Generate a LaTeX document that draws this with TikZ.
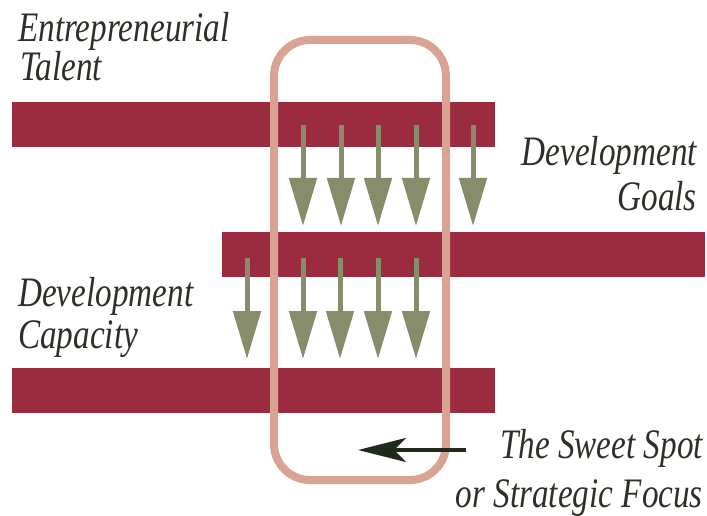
\documentclass[tikz,border=0pt]{standalone}
\usepackage{fontspec}
\newfontfamily\labelfont[FakeStretch=0.79]{Liberation Serif}
\usetikzlibrary{arrows.meta}
\definecolor{barred}{HTML}{9B2B3E}
\definecolor{spotpink}{HTML}{D9A394}
\definecolor{olive}{HTML}{858D6B}
\definecolor{ink}{HTML}{2B3127}
\definecolor{pointer}{HTML}{1F2A1C}
\tikzset{
  bar/.style={fill=barred, inner sep=0pt, outer sep=0pt, minimum height=45pt},
  spot/.style={draw=spotpink, line width=8pt, rounded corners=36pt, inner sep=0pt,
    minimum width=172pt, minimum height=440pt},
  flow/.style={draw=olive, line width=5pt, -{Triangle[length=48pt,width=27pt]}},
  pointerarrow/.style={draw=pointer, line width=4pt, -{Stealth[length=48pt,width=24pt,inset=12pt]}},
  lbl/.style={inner sep=0pt, text=ink, font=\labelfont\itshape\fontsize{42}{42}\selectfont}
}
\begin{document}
\begin{tikzpicture}[x=1pt,y=-1pt]
\useasboundingbox (0,0) rectangle (707,516);
% the three horizontal bands
\node[bar, minimum width=483pt] (talentbar) at (253.5,124.5) {};
\node[bar, minimum width=483pt] (goalsbar) at (463.5,254.5) {};
\node[bar, minimum width=483pt] (capacitybar) at (253.5,390) {};
% the sweet spot frame
\node[spot] (spot) at (360,260) {};
% flows from talent to goals
\foreach \x in {303,341,378,416,473} {
  \coordinate (ta\x) at (\x,125);
  \coordinate (tb\x) at (\x,226);
  \draw[flow] (ta\x) -- (tb\x);
}
% flows from goals to capacity
\foreach \x in {247,303,340,378,416} {
  \coordinate (ga\x) at (\x,258);
  \coordinate (gb\x) at (\x,359);
  \draw[flow] (ga\x) -- (gb\x);
}
% labels
\node[lbl, anchor=base west] (talent1) at (18,42) {Entrepreneurial};
\node[lbl, anchor=base west] (talent2) at (20,81) {Talent};
\node[lbl, anchor=base east] (goals1) at (697,165) {Development};
\node[lbl, anchor=base east] (goals2) at (697,210) {Goals};
\node[lbl, anchor=base west] (cap1) at (18,306) {Development};
\node[lbl, anchor=base west] (cap2) at (18,348) {Capacity};
\node[lbl, anchor=base east] (sweet1) at (703,458) {The Sweet Spot};
\node[lbl, anchor=base east] (sweet2) at (703,507) {or Strategic Focus};
% pointer to the frame
\coordinate (pointstart) at (466,450);
\coordinate (pointtip) at (358,450);
\draw[pointerarrow] (pointstart) -- (pointtip);
\end{tikzpicture}
\end{document}
